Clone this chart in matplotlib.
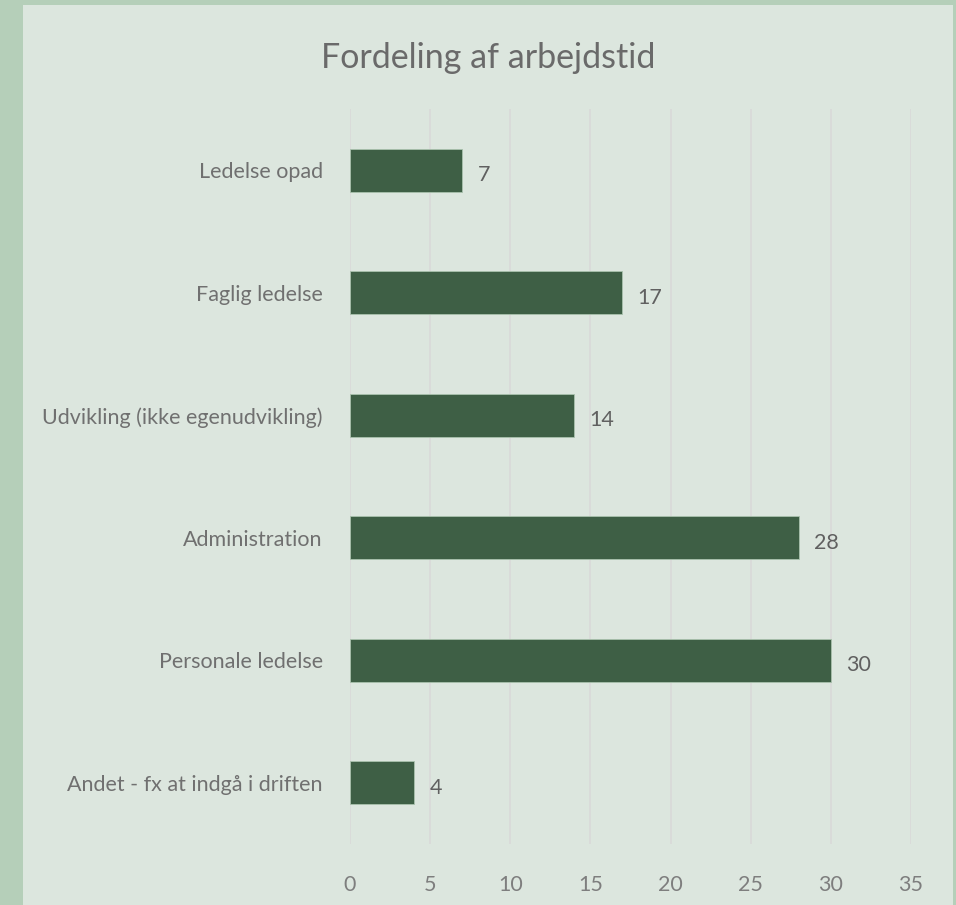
import matplotlib
matplotlib.use("Agg")
import matplotlib.pyplot as plt
from matplotlib.patches import Rectangle

# data
categories = ["Ledelse opad", "Faglig ledelse", "Udvikling (ikke egenudvikling)",
              "Administration", "Personale ledelse", "Andet - fx at indgå i driften"]
values = [7, 17, 14, 28, 30, 4]
xticks = [0, 5, 10, 15, 20, 25, 30, 35]

W, H = 956, 905
plt.rcParams['font.family'] = ['Lato', 'DejaVu Sans']

fig = plt.figure(figsize=(W / 100, H / 100), dpi=100)
fig.patch.set_facecolor("#b5cfb9")
# inner panel
fig.patches.append(Rectangle((23 / W, 0), (953 - 23) / W, (H - 5) / H,
                             transform=fig.transFigure, facecolor="#dce6de",
                             edgecolor="none", zorder=-10))

ax = fig.add_axes([350 / W, (H - 844) / H, (911 - 350) / W, (844 - 109) / H])
ax.set_facecolor("none")

ypos = list(range(len(categories)))
ax.barh(ypos, values, height=0.35, color="#3e5f45", edgecolor="#a9c2ad",
        linewidth=0.6, zorder=3)
for y, v in zip(ypos, values):
    ax.text(v + 0.95, y + 0.04, str(v), va="center", ha="left",
            fontsize=15.5, color="#606060")

ax.set_xlim(0, 35)
ax.set_ylim(len(categories) - 0.5, -0.5)
ax.set_xticks(xticks)
ax.set_xticklabels([str(t) for t in xticks], fontsize=15.5, color="#7e7e7e")
ax.set_yticks(ypos)
ax.set_yticklabels(categories, fontsize=15.5, color="#707070")
ax.tick_params(axis="both", length=0)
ax.tick_params(axis="x", pad=22)
ax.tick_params(axis="y", pad=19.5)
ax.grid(axis="x", color="#d9d9d9", linewidth=1.2, zorder=0)
ax.set_axisbelow(True)
for s in ax.spines.values():
    s.set_visible(False)

fig.text(488 / W, 1 - 58 / H, "Fordeling af arbejdstid", ha="center", va="center",
         fontsize=24.5, color="#6a6a6a")

fig.savefig("out.png", dpi=100, facecolor=fig.get_facecolor())
